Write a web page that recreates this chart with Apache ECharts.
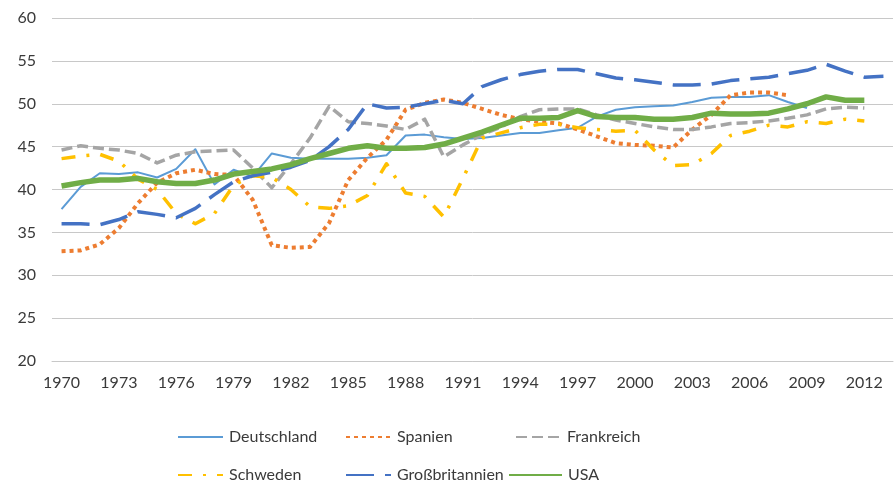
<!DOCTYPE html>
<html><head><meta charset="utf-8">
<script src="https://cdn.jsdelivr.net/npm/echarts@6/dist/echarts.min.js"></script>
<style>html,body{margin:0;padding:0;background:#fff}#c{width:896px;height:486px}</style>
</head><body><div id="c"></div>
<script>
var years = [];
for (var y = 1970; y <= 2013; y++) years.push(String(y));

var deutschland = [37.7,40.3,41.9,41.8,42.0,41.4,42.4,44.7,40.6,42.3,41.5,44.2,43.7,43.6,43.6,43.6,43.7,44.0,46.3,46.4,46.1,45.9,46.0,46.3,46.6,46.6,46.9,47.2,48.5,49.3,49.6,49.7,49.8,50.2,50.7,50.8,50.8,51.0,50.2,49.5];
var spanien = [32.8,32.9,33.6,35.5,38.4,40.8,41.9,42.3,41.8,41.7,38.8,33.5,33.2,33.3,36.1,41.1,43.7,45.8,49.3,50.1,50.5,50.1,49.4,48.7,48.2,47.9,47.7,47.0,46.2,45.4,45.2,45.1,44.9,47.0,48.7,51.0,51.3,51.3,51.0];
var frankreich = [44.6,45.1,44.8,44.6,44.2,43.1,44.0,44.4,44.5,44.6,42.5,40.2,43.0,46.0,49.7,47.9,47.7,47.4,47.0,48.2,43.8,45.2,46.4,47.3,48.5,49.3,49.4,49.4,48.7,48.1,47.7,47.3,47.0,47.0,47.3,47.7,47.8,48.0,48.3,48.7,49.4,49.6,49.5];
var schweden = [43.6,43.9,44.1,43.3,41.2,40.0,37.2,36.0,37.2,40.5,41.6,41.4,40.0,38.0,37.8,38.1,39.3,43.0,39.6,39.2,36.8,41.3,46.0,46.6,47.2,47.6,47.6,47.2,47.0,46.8,46.9,44.6,42.8,42.9,44.2,46.3,46.8,47.5,47.3,47.9,47.7,48.2,48.0];
var grossbritannien = [36.0,36.0,35.9,36.5,37.4,37.1,36.7,37.8,39.4,40.9,41.6,42.0,42.6,43.4,45.0,47.0,50.0,49.5,49.6,50.0,50.4,50.0,52.0,52.8,53.4,53.8,54.0,54.0,53.5,53.0,52.8,52.5,52.2,52.2,52.3,52.7,52.9,53.1,53.5,53.9,54.6,53.8,53.1,53.2];
var usa = [40.4,40.8,41.1,41.1,41.3,40.9,40.7,40.7,41.1,41.8,42.1,42.4,42.9,43.6,44.2,44.8,45.1,44.8,44.8,44.9,45.3,46.0,46.7,47.5,48.3,48.3,48.4,49.2,48.5,48.4,48.4,48.2,48.2,48.4,48.9,48.8,48.8,48.9,49.4,50.0,50.8,50.4,50.4];

var names = ['Deutschland','Spanien','Frankreich','Schweden','Großbritannien','USA'];
var values = [deutschland, spanien, frankreich, schweden, grossbritannien, usa];
var colors = ['#5B9BD5','#ED7D31','#A5A5A5','#FFC000','#4472C4','#70AD47'];
var widths = [2, 4, 3.5, 3.5, 3.5, 5.5];
var dashes = ['solid', [4,4], [11,5], [14,11,3,11], [28,11], 'solid'];

var legendPos = [
  {left:172, top:424}, {left:340, top:424}, {left:510, top:424},
  {left:172, top:462}, {left:340, top:462}, {left:503, top:462}
];

var FONT = 'Lato, "Open Sans", sans-serif';

var series = names.map(function(n, i){
  return {
    name: n, type: 'line', data: values[i], symbol: 'none', smooth: false,
    lineStyle: {color: colors[i], width: widths[i], type: dashes[i], cap: 'butt', join: 'round'},
    itemStyle: {color: colors[i]}, z: 2 + i, animation: false
  };
});

var legends = names.map(function(n, i){
  return {
    data: [n], left: legendPos[i].left, top: legendPos[i].top,
    itemWidth: i === 5 ? 53 : 45, itemHeight: 14, itemGap: 0,
    itemStyle: {opacity: 0},
    textStyle: {fontFamily: FONT, fontSize: 16, color: '#3a3a3a', padding: [0,0,0,1]},
    selectedMode: false
  };
});

var chart = echarts.init(document.getElementById('c'), null, {renderer: 'canvas'});
chart.setOption({
  animation: false,
  backgroundColor: '#ffffff',
  grid: {left: 52, right: 3, top: 18, bottom: 125, containLabel: false},
  legend: legends,
  xAxis: {
    type: 'category', data: years, boundaryGap: true,
    axisLine: {show: true, lineStyle: {color: '#C8C8C8', width: 1}},
    axisTick: {show: false},
    axisLabel: {interval: 2, fontFamily: FONT, fontSize: 16, color: '#3a3a3a', margin: 14}
  },
  yAxis: {
    type: 'value', min: 20, max: 60, interval: 5,
    axisLine: {show: false}, axisTick: {show: false},
    splitLine: {lineStyle: {color: '#C8C8C8', width: 1}},
    axisLabel: {fontFamily: FONT, fontSize: 16, color: '#3a3a3a', margin: 16}
  },
  series: series
});
</script></body></html>
